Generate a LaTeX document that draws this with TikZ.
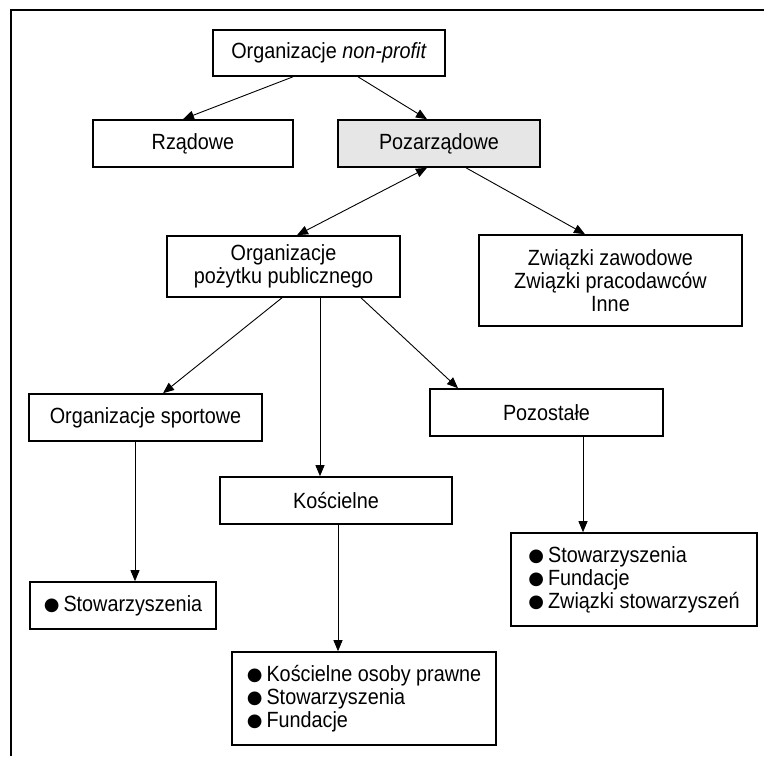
\documentclass[tikz,border=0pt]{standalone}
\usepackage{fontspec}
\setmainfont{Liberation Sans}[FakeStretch=0.9]
\newfontfamily\symfont{DejaVu Sans}
\usetikzlibrary{arrows.meta}
\newcommand{\blt}{\raisebox{0.5pt}{\symfont\fontsize{18pt}{18pt}\selectfont ●}\hspace{4pt}}
\tikzset{
  box/.style={draw=black, line width=1.6pt, fill=white, inner sep=0pt,
    font=\fontsize{22pt}{23pt}\selectfont, align=center},
  lbox/.style={box, align=left},
  conn/.style={line width=0.9pt, -{Triangle[length=11pt,width=9pt]}},
  conn2/.style={line width=0.9pt, {Triangle[length=11pt,width=9pt]}-{Triangle[length=11pt,width=9pt]}}
}
\begin{document}
\begin{tikzpicture}[x=1pt,y=-1pt]
\useasboundingbox (0,0) rectangle (764,756);
\draw[line width=2pt] (11,756) -- (11,9.5) -- (764,9.5);

\node[box, minimum width=232pt, minimum height=46pt] (np) at (329,53) {Organizacje \textit{non-profit}};
\node[box, minimum width=200pt, minimum height=47pt] (rz) at (193,143.5) {Rządowe};
\node[box, fill={rgb,255:red,230;green,230;blue,230}, minimum width=202pt, minimum height=47pt] (poz) at (439,143.5) {Pozarządowe};
\node[box, minimum width=233pt, minimum height=61pt] (pp) at (283.5,266.5) {Organizacje\\pożytku publicznego};
\node[box, minimum width=263pt, minimum height=91pt] (zw) at (610.5,280.5) {Związki zawodowe\\Związki pracodawców\\Inne};
\node[box, minimum width=233pt, minimum height=47pt] (sp) at (145.5,417.5) {Organizacje sportowe};
\node[box, minimum width=233pt, minimum height=47pt] (po) at (546.5,412.5) {Pozostałe};
\node[box, minimum width=232pt, minimum height=47pt] (ko) at (336,500.5) {Kościelne};
\node[lbox, minimum width=186pt, minimum height=47pt] (st) at (123,605.5) {\blt Stowarzyszenia};
\node[lbox, minimum width=246pt, minimum height=93pt] (pl) at (634,579.5) {\blt Stowarzyszenia\\\blt Fundacje\\\blt Związki stowarzyszeń};
\node[lbox, minimum width=264pt, minimum height=93pt] (kl) at (364,698.5) {\blt Kościelne osoby prawne\\\blt Stowarzyszenia\\\blt Fundacje};

\draw[conn] ([xshift=-36pt]np.south) -- ([xshift=-10pt]rz.north);
\draw[conn] ([xshift=29pt]np.south) -- ([xshift=-12pt]poz.north);
\draw[conn2] ([xshift=13.5pt]pp.north) -- ([xshift=-12pt]poz.south);
\draw[conn] ([xshift=27pt]poz.south) -- ([xshift=-25.5pt]zw.north);
\draw[conn] ([xshift=-1.5pt]pp.south) -- ([xshift=17.5pt]sp.north);
\draw[conn] ([xshift=36.5pt]pp.south) -- ([xshift=-16pt]ko.north);
\draw[conn] ([xshift=77.5pt]pp.south) -- ([xshift=-88.5pt]po.north);
\draw[conn] ([xshift=-10.5pt]sp.south) -- ([xshift=12pt]st.north);
\draw[conn] ([xshift=2pt]ko.south) -- ([xshift=-26pt]kl.north);
\draw[conn] ([xshift=36.5pt]po.south) -- ([xshift=-51pt]pl.north);
\end{tikzpicture}
\end{document}
